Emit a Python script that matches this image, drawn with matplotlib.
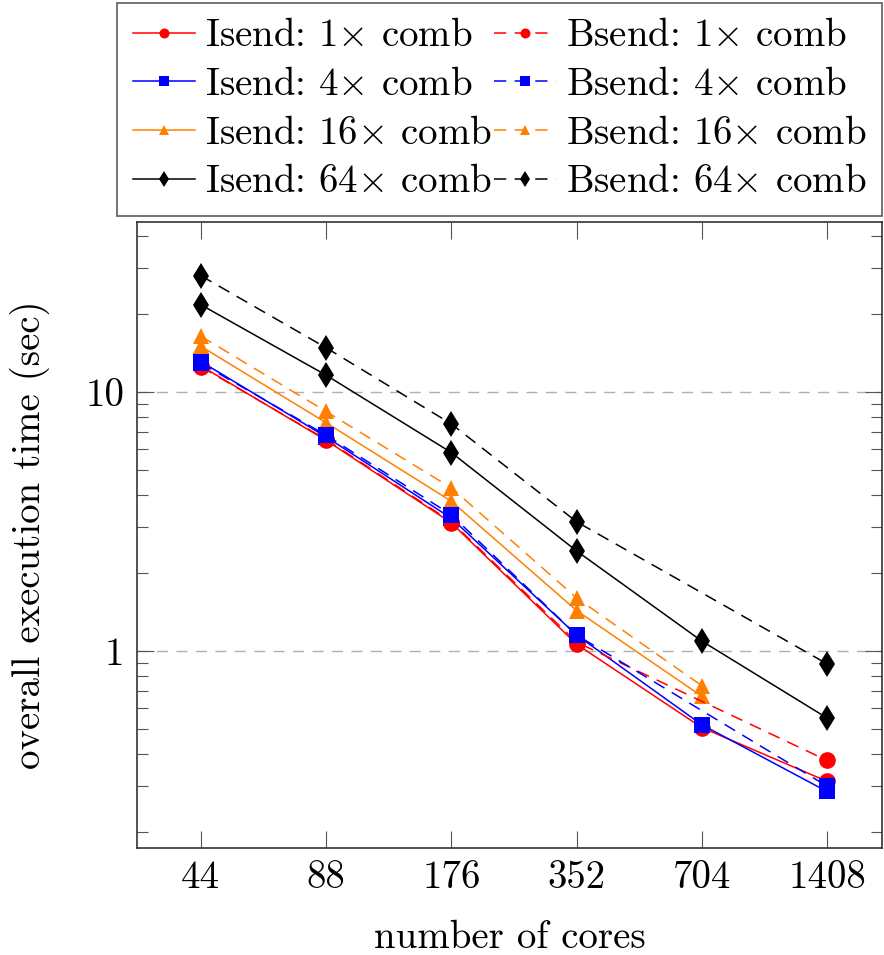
import numpy as np
import matplotlib
matplotlib.use("Agg")
import matplotlib.pyplot as plt
from matplotlib.ticker import FixedLocator, NullFormatter, FixedFormatter

plt.rcParams['font.family'] = ['cmr10', 'DejaVu Serif']
plt.rcParams['mathtext.fontset'] = 'cm'
plt.rcParams['axes.formatter.use_mathtext'] = True

cores = [44, 88, 176, 352, 704, 1408]
core_labels = ["44", "88", "176", "352", "704", "1408"]

isend_1 = [12.6, 6.5, 3.12, 1.06, 0.505, 0.313]
isend_4 = [13.1, 6.7, 3.25, 1.15, 0.518, 0.286]
isend_16 = [15.0, 7.6, 3.78, 1.43, 0.667, None]
isend_64 = [21.7, 11.6, 5.83, 2.43, 1.09, 0.55]
bsend_1 = [12.5, 6.55, 3.15, 1.08, None, 0.377]
bsend_4 = [12.9, 6.8, 3.35, 1.15, None, 0.30]
bsend_16 = [16.4, 8.4, 4.26, 1.60, 0.733, None]
bsend_64 = [28.1, 14.8, 7.52, 3.15, None, 0.89]

series = [
    ("Isend: 1$\\times$ comb", isend_1, '#ff0000', 'o', '-'),
    ("Isend: 4$\\times$ comb", isend_4, '#0000ff', 's', '-'),
    ("Isend: 16$\\times$ comb", isend_16, '#ff8000', '^', '-'),
    ("Isend: 64$\\times$ comb", isend_64, '#000000', 'd', '-'),
    ("Bsend: 1$\\times$ comb", bsend_1, '#ff0000', 'o', '--'),
    ("Bsend: 4$\\times$ comb", bsend_4, '#0000ff', 's', '--'),
    ("Bsend: 16$\\times$ comb", bsend_16, '#ff8000', '^', '--'),
    ("Bsend: 64$\\times$ comb", bsend_64, '#000000', 'd', '--'),
]
msizes = {'o': 12, 's': 11.5, '^': 12, 'd': 13}

fig = plt.figure(figsize=(8.84, 9.55), dpi=100)
ax = fig.add_axes([137/884, 1-848/955, (882-137)/884, (848-222)/955])
ax.set_xscale('log', base=2)
ax.set_yscale('log')

handles = []
for label, vals, color, marker, ls in series:
    xs = [c for c, v in zip(cores, vals) if v is not None]
    ys = [v for v in vals if v is not None]
    kw = dict(color=color, marker=marker, markersize=msizes[marker], lw=1.1,
              markeredgewidth=0, label=label)
    if ls == '--':
        kw['dashes'] = (8, 5.5)
    h, = ax.plot(xs, ys, **kw)
    handles.append(h)

ax.set_xlim(30.9, 1909)
ax.set_ylim(0.173, 45.3)

ax.xaxis.set_major_locator(FixedLocator(cores))
ax.xaxis.set_major_formatter(FixedFormatter(core_labels))
ax.xaxis.set_minor_locator(FixedLocator([]))
ax.yaxis.set_major_locator(FixedLocator([1, 10]))
ax.yaxis.set_major_formatter(FixedFormatter(["1", "10"]))
minor = [m * 10.0**e for e in (-1, 0, 1) for m in range(2, 10)]
ax.yaxis.set_minor_locator(FixedLocator(minor))
ax.yaxis.set_minor_formatter(NullFormatter())

ax.tick_params(which='major', direction='in', length=12, width=0.8, color='#555555',
               top=True, right=True, labelsize=28, pad=9)
ax.tick_params(which='minor', direction='in', length=8, width=0.8, color='#555555',
               top=True, right=True)
for s in ax.spines.values():
    s.set_color('#333333')
    s.set_linewidth(1.2)

ax.yaxis.grid(True, which='major', color='#b0b0b0', lw=1.0, dashes=(8, 6))
ax.set_axisbelow(True)

ax.set_xlabel("number of cores", fontsize=28)
ax.set_ylabel("overall execution time (sec)", fontsize=28)
ax.xaxis.set_label_coords(0.5, (848-920)/626)
ax.yaxis.set_label_coords((50-137)/745, 0.5)

leg = fig.legend(handles=handles, ncol=2, loc='upper right',
                 bbox_to_anchor=(882/884, 1-3/955), borderaxespad=0, fontsize=28,
                 frameon=True, fancybox=False, edgecolor='#333333',
                 markerscale=0.6, handlelength=1.6, handletextpad=0.25,
                 columnspacing=0.05, labelspacing=0.33, borderpad=0.4)
leg.get_frame().set_linewidth(1.2)

fig.savefig("out.png", dpi=100)
